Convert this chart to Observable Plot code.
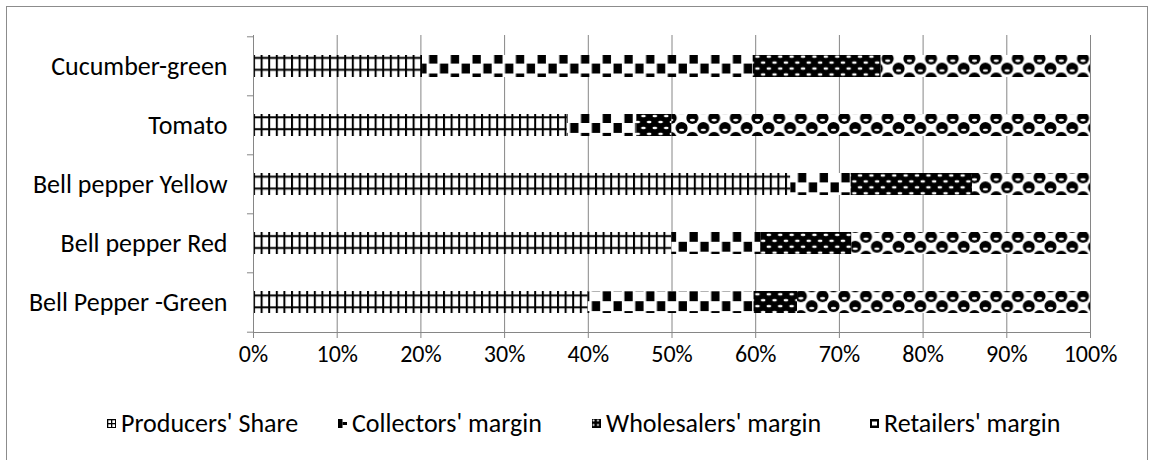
<!DOCTYPE html>
<html><head><meta charset="utf-8">
<script src="https://cdn.jsdelivr.net/npm/d3@7"></script>
<script src="https://cdn.jsdelivr.net/npm/@observablehq/plot@0.6"></script>
<style>
body{margin:0;background:#fff;font-family:Carlito,Lato,sans-serif;}
#wrap{position:relative;width:1149px;height:460px;overflow:hidden;background:#fff}
#frame{position:absolute;left:6px;top:6px;width:1142px;height:480px;border:1px solid #8c8c8c;box-sizing:border-box}
#chart{position:absolute;left:0;top:0}
#legend{position:absolute;top:408px;left:0;width:1149px;height:30px;font-size:26px;color:#000}
.item{position:absolute;top:0;height:30px;display:flex;align-items:center;gap:5px;white-space:nowrap}
.item svg{display:block}
</style></head><body>
<svg width="0" height="0" style="position:absolute">
<defs>
<pattern id="pProd" patternUnits="userSpaceOnUse" x="253" y="53.7" width="7.6" height="11.88">
 <rect width="7.6" height="11.88" fill="#fff"/>
 <rect x="0" y="0" width="2" height="11.88" fill="#000"/>
 <rect x="0" y="3.2" width="7.6" height="2" fill="#000"/>
</pattern>
<pattern id="pColl" patternUnits="userSpaceOnUse" x="253" y="53.7" width="21.7" height="19.8">
 <rect width="21.7" height="19.8" fill="#fff"/>
 <rect x="2.5" y="0" width="8.3" height="9.9" fill="#000"/>
 <rect x="13.35" y="9.9" width="8.3" height="9.9" fill="#000"/>
</pattern>
<pattern id="pWhole" patternUnits="userSpaceOnUse" x="253" y="53.7" width="11.4" height="11.88">
 <rect width="11.4" height="11.88" fill="#000"/>
 <ellipse cx="2.85" cy="2.97" rx="2.4" ry="1.3" fill="#fff"/>
 <ellipse cx="8.55" cy="8.91" rx="2.4" ry="1.3" fill="#fff"/>
</pattern>
<pattern id="pRet" patternUnits="userSpaceOnUse" x="253" y="53.7" width="21.7" height="19.8">
 <rect width="21.7" height="19.8" fill="#fff"/>
 <circle cx="5.4" cy="5" r="6" fill="#000"/>
 <circle cx="27.1" cy="5" r="6" fill="#000"/>
 <circle cx="16.3" cy="14.85" r="6" fill="#000"/>
 <circle cx="-5.45" cy="14.85" r="6" fill="#000"/>
 <circle cx="5.4" cy="24.75" r="6" fill="#000"/>
 <circle cx="27.1" cy="24.75" r="6" fill="#000"/>
 <circle cx="16.3" cy="-4.95" r="6" fill="#000"/>
 <ellipse cx="5.4" cy="7" rx="2.6" ry="1.3" fill="#fff"/>
 <ellipse cx="16.3" cy="16.85" rx="2.6" ry="1.3" fill="#fff"/>
</pattern>
<pattern id="sProd" patternUnits="userSpaceOnUse" width="4" height="4">
 <rect width="4" height="4" fill="#fff"/>
 <rect x="0" y="0" width="1.3" height="4" fill="#000"/>
 <rect x="0" y="0" width="4" height="1.3" fill="#000"/>
</pattern>
<pattern id="sColl" patternUnits="userSpaceOnUse" width="9" height="9">
 <rect width="9" height="9" fill="#fff"/>
 <rect x="0" y="0" width="4.5" height="9" fill="#000"/>
 <rect x="4.5" y="3" width="4.5" height="3" fill="#000"/>
</pattern>
<pattern id="sWhole" patternUnits="userSpaceOnUse" width="4.5" height="4.5">
 <rect width="4.5" height="4.5" fill="#000"/>
 <circle cx="1.5" cy="1.5" r="1" fill="#fff"/>
</pattern>
<pattern id="sRet" patternUnits="userSpaceOnUse" width="9" height="9">
 <rect width="9" height="9" fill="#fff"/>
 <rect x="0" y="0" width="9" height="2.5" fill="#000"/>
 <rect x="0" y="6.5" width="9" height="2.5" fill="#000"/>
 <rect x="0" y="0" width="2" height="9" fill="#000"/>
 <rect x="7" y="0" width="2" height="9" fill="#000"/>
</pattern>
</defs>
</svg>
<div id="wrap"><div id="frame"></div><div id="chart"></div><div id="legend"></div></div>
<script>
const categories = ["Cucumber-green", "Tomato", "Bell pepper Yellow", "Bell pepper Red", "Bell Pepper -Green"];
const seriesNames = ["Producers' Share", "Collectors' margin", "Wholesalers' margin", "Retailers' margin"];
const producersShare = [20.2, 37.5, 64.2, 50.0, 40.0];
const collectorsMargin = [39.5, 8.3, 7.2, 10.6, 19.8];
const wholesalersMargin = [15.3, 4.2, 14.5, 10.9, 5.2];
const retailersMargin = [25.0, 50.0, 14.1, 28.5, 35.0];
const xTicks = [0, 10, 20, 30, 40, 50, 60, 70, 80, 90, 100];
const patternUrls = ["url(#pProd)", "url(#pColl)", "url(#pWhole)", "url(#pRet)"];
const swatchUrls = ["url(#sProd)", "url(#sColl)", "url(#sWhole)", "url(#sRet)"];

const seriesValues = [producersShare, collectorsMargin, wholesalersMargin, retailersMargin];
const rows = [];
categories.forEach((c, i) => {
  seriesNames.forEach((s, j) => rows.push({category: c, series: s, value: seriesValues[j][i]}));
});

const gray = "#868686";
const half = 297 / categories.length / 2;
const chart = Plot.plot({
  width: 1149, height: 380,
  marginLeft: 253, marginRight: 59, marginTop: 35, marginBottom: 48,
  style: {fontFamily: "Carlito, Lato, sans-serif", fontSize: "26px", color: "#000", background: "transparent", overflow: "visible"},
  x: {domain: [0, 100], axis: null},
  y: {domain: categories, paddingInner: 0.63, paddingOuter: 0.315, axis: null},
  color: {type: "ordinal", domain: seriesNames, range: patternUrls},
  marks: [
    Plot.gridX(xTicks, {stroke: gray, strokeOpacity: 1}),
    Plot.barX(rows, {x: "value", y: "category", fill: "series"}),
    Plot.ruleX([0], {stroke: gray}),
    Plot.frame({anchor: "bottom", stroke: gray}),
    Plot.axisX(xTicks, {label: null, tickSize: 6, tickPadding: 6, stroke: gray, fill: "#000", tickFormat: d => d + "%", fontSize: 24}),
    Plot.axisY({label: null, tickSize: 0, tickPadding: 26, fill: "#000", fontSize: 26}),
    Plot.ruleY(categories, {y: d => d, x1: -0.72, x2: 0, dy: -half, stroke: gray}),
    Plot.ruleY([categories[categories.length - 1]], {y: d => d, x1: -0.72, x2: 0, dy: half, stroke: gray})
  ]
});
document.getElementById("chart").appendChild(chart);

const legendLeft = [107, 338, 592, 870];
const legend = document.getElementById("legend");
seriesNames.forEach((s, j) => {
  const it = document.createElement("div");
  it.className = "item";
  it.style.left = legendLeft[j] + "px";
  it.innerHTML = `<svg width="9" height="9"><rect width="9" height="9" fill="${swatchUrls[j]}"/></svg><span>${s}</span>`;
  legend.appendChild(it);
});
</script>
</body></html>
